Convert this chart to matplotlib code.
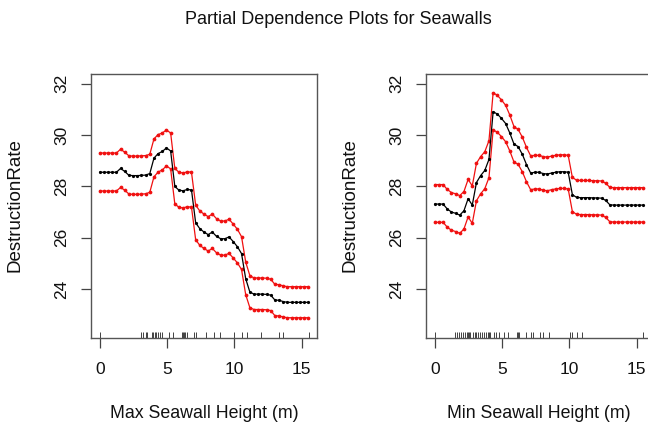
import matplotlib
matplotlib.use("Agg")
import matplotlib.pyplot as plt

plt.rcParams['font.family'] = ['Liberation Sans', 'DejaVu Sans']

# ---- data ----
x_grid = [0.00, 0.31, 0.62, 0.93, 1.24, 1.55, 1.86, 2.17, 2.48, 2.79, 3.10, 3.41, 3.72,
          4.03, 4.34, 4.65, 4.96, 5.27, 5.58, 5.89, 6.20, 6.51, 6.82, 7.13, 7.44, 7.75,
          8.06, 8.37, 8.68, 8.99, 9.30, 9.61, 9.92, 10.23, 10.54, 10.85, 11.16, 11.47,
          11.78, 12.09, 12.40, 12.71, 13.02, 13.33, 13.64, 13.95, 14.26, 14.57, 14.88,
          15.19, 15.50]

max_mid = [28.55, 28.55, 28.55, 28.55, 28.55, 28.70, 28.58, 28.43, 28.42, 28.42, 28.43,
           28.44, 28.50, 29.10, 29.28, 29.36, 29.50, 29.38, 28.00, 27.85, 27.83, 27.88,
           27.86, 26.58, 26.35, 26.22, 26.12, 26.22, 26.05, 25.96, 25.96, 26.03, 25.85,
           25.65, 25.38, 24.40, 23.88, 23.80, 23.80, 23.80, 23.79, 23.76, 23.57, 23.56,
           23.51, 23.48, 23.48, 23.48, 23.48, 23.48, 23.48]
max_upper = [29.30, 29.30, 29.30, 29.30, 29.30, 29.45, 29.33, 29.19, 29.18, 29.18, 29.19,
             29.20, 29.25, 29.85, 30.02, 30.08, 30.20, 30.08, 28.70, 28.55, 28.52, 28.57,
             28.55, 27.27, 27.04, 26.92, 26.82, 26.92, 26.74, 26.65, 26.65, 26.72, 26.53,
             26.33, 26.04, 25.05, 24.52, 24.43, 24.43, 24.43, 24.42, 24.38, 24.18, 24.17,
             24.12, 24.09, 24.09, 24.09, 24.09, 24.09, 24.09]
max_lower = [27.82, 27.82, 27.82, 27.82, 27.82, 27.96, 27.85, 27.70, 27.69, 27.69, 27.70,
             27.71, 27.77, 28.37, 28.56, 28.64, 28.80, 28.68, 27.32, 27.18, 27.16, 27.21,
             27.19, 25.92, 25.70, 25.58, 25.48, 25.58, 25.41, 25.32, 25.32, 25.39, 25.21,
             25.02, 24.76, 23.78, 23.27, 23.20, 23.20, 23.20, 23.19, 23.16, 22.96, 22.95,
             22.91, 22.88, 22.88, 22.88, 22.88, 22.88, 22.88]

min_mid = [27.31, 27.31, 27.31, 27.12, 27.00, 26.95, 26.88, 27.05, 27.52, 27.27, 28.15,
           28.42, 28.62, 29.05, 30.91, 30.82, 30.65, 30.45, 30.08, 29.65, 29.55, 29.25,
           28.85, 28.52, 28.55, 28.55, 28.50, 28.48, 28.52, 28.55, 28.57, 28.57, 28.55,
           27.68, 27.57, 27.56, 27.56, 27.56, 27.55, 27.55, 27.54, 27.45, 27.28, 27.27,
           27.27, 27.27, 27.27, 27.27, 27.27, 27.27, 27.27]
min_upper = [28.07, 28.07, 28.07, 27.88, 27.76, 27.71, 27.64, 27.80, 28.27, 28.02, 28.90,
             29.16, 29.35, 29.78, 31.65, 31.55, 31.37, 31.16, 30.78, 30.33, 30.22, 29.92,
             29.52, 29.19, 29.21, 29.21, 29.16, 29.14, 29.18, 29.21, 29.23, 29.23, 29.21,
             28.35, 28.24, 28.23, 28.23, 28.23, 28.22, 28.22, 28.21, 28.12, 27.96, 27.95,
             27.95, 27.95, 27.95, 27.95, 27.95, 27.95, 27.95]
min_lower = [26.60, 26.60, 26.60, 26.41, 26.29, 26.24, 26.17, 26.34, 26.81, 26.56, 27.44,
             27.71, 27.91, 28.34, 30.20, 30.11, 29.94, 29.74, 29.38, 28.95, 28.86, 28.57,
             28.18, 27.87, 27.90, 27.90, 27.85, 27.83, 27.87, 27.90, 27.92, 27.92, 27.90,
             27.02, 26.91, 26.90, 26.90, 26.90, 26.89, 26.89, 26.88, 26.79, 26.62, 26.61,
             26.61, 26.61, 26.61, 26.61, 26.61, 26.61, 26.61]

max_rug = [0.0, 3.03, 3.18, 3.41, 3.53, 3.86, 3.98, 4.10, 4.16, 4.30, 4.48, 4.60, 5.15,
           5.47, 6.10, 6.22, 6.28, 6.34, 6.47, 7.01, 7.16, 7.89, 8.46, 8.96, 10.00,
           10.57, 10.95, 12.00, 13.30, 13.63, 15.55]
min_rug = [0.0, 1.49, 1.66, 1.84, 1.96, 2.11, 2.28, 2.40, 2.45, 2.53, 2.65, 2.85, 2.98,
           3.10, 3.23, 3.40, 3.52, 3.65, 3.82, 3.98, 4.04, 4.14, 4.44, 4.59, 4.76, 5.18,
           5.43, 6.13, 6.22, 6.28, 6.82, 7.12, 7.29, 7.86, 8.03, 8.48, 10.02, 10.21,
           10.59, 10.96, 15.49]

x_ticks = [0, 5, 10, 15]
y_ticks = [24, 26, 28, 30, 32]
title = "Partial Dependence Plots for Seawalls"
y_label = "DestructionRate"
x_labels = ["Max Seawall Height (m)", "Min Seawall Height (m)"]

# ---- layout ----
W, H = 648, 426
fig = plt.figure(figsize=(W / 100, H / 100), dpi=100)


def fx(px):
    return px / W


def fy(py):
    return 1 - py / H


axL = fig.add_axes([fx(91), fy(338), 226 / W, 264 / H])
axR = fig.add_axes([fx(426), fy(338), 226 / W, 264 / H])

panels = [
    (axL, max_mid, max_upper, max_lower, max_rug),
    (axR, min_mid, min_upper, min_lower, min_rug),
]

red = '#F01010'
for ax, mid, up, lo, rug in panels:
    ax.plot(x_grid, up, color=red, lw=0.9, marker='o', ms=2.7, mew=0)
    ax.plot(x_grid, lo, color=red, lw=0.9, marker='o', ms=2.7, mew=0)
    ax.plot(x_grid, mid, color='black', lw=0.9, marker='o', ms=2.3, mew=0)
    ax.vlines(rug, 0, 0.024, transform=ax.get_xaxis_transform(), color='#222222', lw=0.6)
    ax.set_xlim(-0.65, 16.15)
    ax.set_ylim(22.09, 32.38)
    ax.set_xticks(x_ticks)
    ax.set_yticks(y_ticks)
    ax.set_xticklabels([str(t) for t in x_ticks])
    ax.set_yticklabels([str(t) for t in y_ticks], rotation=90, va='center')
    ax.tick_params(axis='both', direction='out', length=7.5, width=0.9,
                   color='#444444', labelsize=12.5, labelcolor='#111111')
    ax.tick_params(axis='x', pad=10)
    ax.tick_params(axis='y', pad=8)
    for s in ax.spines.values():
        s.set_color('#555555')
        s.set_linewidth(1.0)

fig.text(fx(338), fy(20), title, ha='center', va='center', fontsize=13, color='#111111')
fig.text(fx(15), fy(205), y_label, rotation=90, ha='center', va='center', fontsize=13.5, color='#111111')
fig.text(fx(350), fy(205), y_label, rotation=90, ha='center', va='center', fontsize=13.5, color='#111111')
fig.text(fx(204), fy(414), x_labels[0], ha='center', va='center', fontsize=12.8, color='#111111')
fig.text(fx(539), fy(414), x_labels[1], ha='center', va='center', fontsize=12.8, color='#111111')

fig.savefig('out.png', dpi=100)
